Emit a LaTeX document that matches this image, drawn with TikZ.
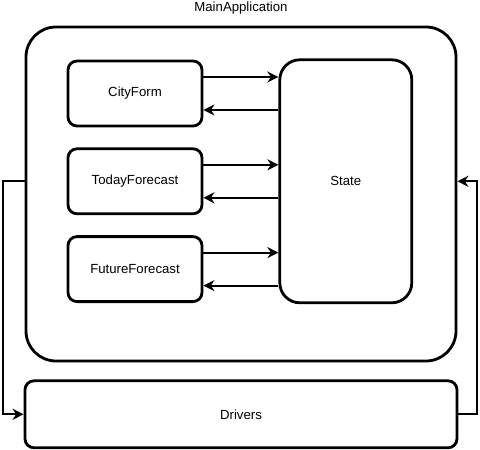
\documentclass[tikz,border=0pt]{standalone}
\usepackage{fontspec}
\setmainfont{Liberation Sans}
\usetikzlibrary{arrows.meta,positioning}
\tikzset{
  comp/.style={draw, rounded corners=9pt, line width=2.8pt, align=center, minimum width=134pt, minimum height=65pt, inner sep=0pt, fill=white},
  statebox/.style={comp, rounded corners=20pt, minimum width=132pt, minimum height=243pt},
  appbox/.style={draw, rounded corners=30pt, line width=2.8pt, minimum width=430pt, minimum height=334pt, inner sep=0pt},
  drvbox/.style={comp, minimum width=432pt, minimum height=67pt},
  arrow/.style={-{Stealth[length=11pt,width=11pt,inset=3.5pt]}, line width=2pt}
}

\begin{document}
\begin{tikzpicture}[x=1pt, y=-1pt, font=\fontsize{13.2}{15}\selectfont, node distance=20pt and 75pt]
  \useasboundingbox (0,0) rectangle (480,450);

  % Application container
  \node[appbox] (mainapp) at (241,194) {};
  \node[above=8pt of mainapp] (apptitle) {MainApplication};

  % Components
  \node[comp] (cityform) at (135,93.5) {CityForm};
  \node[comp, below=of cityform] (todayfc) {TodayForecast};
  \node[comp, below=of todayfc] (futurefc) {FutureForecast};
  \node[statebox, right=of todayfc] (state) {State};

  \node[drvbox, below=17pt of mainapp] (drivers) {Drivers};

  % arrows
  \draw[arrow] ([yshift=16.5pt]cityform.east) -- ([yshift=16.5pt]cityform.east -| state.west);
  \draw[arrow] ([yshift=-16.5pt]cityform.east -| state.west) -- ([yshift=-16.5pt]cityform.east);
  \draw[arrow] ([yshift=16.5pt]todayfc.east) -- ([yshift=16.5pt]todayfc.east -| state.west);
  \draw[arrow] ([yshift=-16.5pt]todayfc.east -| state.west) -- ([yshift=-16.5pt]todayfc.east);
  \draw[arrow] ([yshift=16.5pt]futurefc.east) -- ([yshift=16.5pt]futurefc.east -| state.west);
  \draw[arrow] ([yshift=-16.5pt]futurefc.east -| state.west) -- ([yshift=-16.5pt]futurefc.east);

  \draw[arrow] (mainapp.west |- state) -- ++(-22,0) |- (drivers.west);
  \draw[arrow] (drivers.east) -- ++(19,0) |- (mainapp.east |- state);
\end{tikzpicture}
\end{document}
